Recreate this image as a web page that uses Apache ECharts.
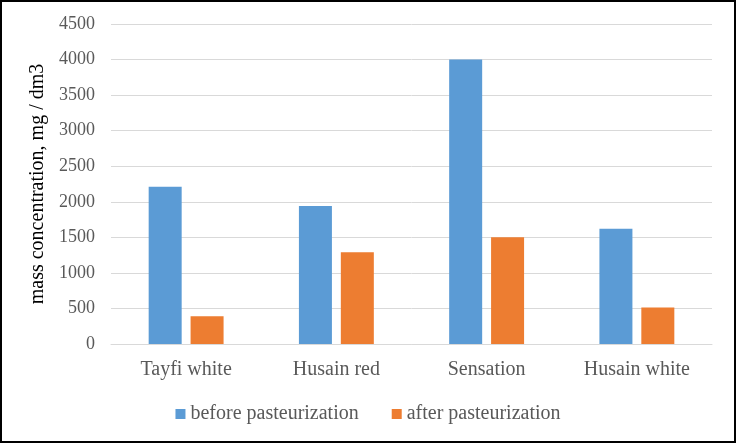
<!DOCTYPE html>
<html><head><meta charset="utf-8">
<script src="https://cdn.jsdelivr.net/npm/echarts@6/dist/echarts.min.js"></script>
<style>html,body{margin:0;padding:0;background:#fff}#c{width:736px;height:443px}</style>
</head><body><div id="c"></div>
<script>
var categories = ['Tayfi white', 'Husain red', 'Sensation', 'Husain white'];
var beforePast = [2210, 1940, 4000, 1620];
var afterPast = [390, 1290, 1500, 515];
var seriesNames = ['before pasteurization', 'after pasteurization'];
var yMin = 0, yMax = 4500, yStep = 500;
var FONT = '"Liberation Serif", "Times New Roman", serif';
var chart = echarts.init(document.getElementById('c'));
chart.setOption({
  animation: false,
  color: ['#5B9BD5', '#ED7D31'],
  graphic: [{type: 'rect', shape: {x: 1, y: 1, width: 734, height: 441}, style: {fill: 'none', stroke: '#000', lineWidth: 2}, silent: true}],
  grid: {left: 111, right: 24, top: 24, bottom: 99},
  legend: {
    bottom: 14, left: 'center', itemWidth: 10, itemHeight: 10, itemGap: 33,
    icon: 'rect',
    textStyle: {fontFamily: FONT, fontSize: 20, color: '#595959'},
    data: seriesNames
  },
  xAxis: {
    type: 'category', data: categories,
    axisLine: {lineStyle: {color: '#D9D9D9', width: 1}},
    axisTick: {show: false},
    axisLabel: {fontFamily: FONT, fontSize: 20, color: '#595959', margin: 16}
  },
  yAxis: {
    type: 'value', min: yMin, max: yMax, interval: yStep,
    name: 'mass concentration, mg / dm3', nameLocation: 'middle', nameGap: 51,
    nameTextStyle: {fontFamily: FONT, fontSize: 20, color: '#000'},
    axisLine: {show: false}, axisTick: {show: false},
    splitLine: {lineStyle: {color: '#D9D9D9', width: 1}},
    axisLabel: {fontFamily: FONT, fontSize: 18, color: '#595959', margin: 16, formatter: function (v) { return String(v); }}
  },
  series: [
    {name: seriesNames[0], type: 'bar', data: beforePast, barWidth: 33, barGap: '27%'},
    {name: seriesNames[1], type: 'bar', data: afterPast, barWidth: 33, barGap: '27%'}
  ]
});
</script></body></html>
